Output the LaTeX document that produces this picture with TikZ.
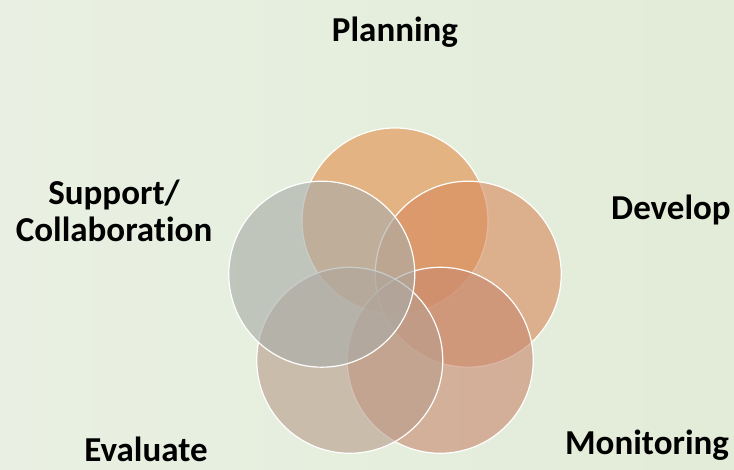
\documentclass[tikz,border=0pt]{standalone}
\usepackage{fontspec}
\setmainfont{Carlito}[Ligatures=NoCommon]
\usetikzlibrary{calc}
\definecolor{bgleft}{HTML}{E9F0E3}
\definecolor{bgright}{HTML}{E2ECD8}
\definecolor{planc}{HTML}{E38F4C}
\definecolor{devc}{HTML}{D98C5E}
\definecolor{monc}{HTML}{C98A70}
\definecolor{evac}{HTML}{B89E8C}
\definecolor{supc}{HTML}{A9ACA8}
\tikzset{
  petal/.style={circle, minimum size=186pt, draw=white, line width=1.2pt, fill opacity=0.62},
  lbl/.style={font=\bfseries\fontsize{35}{37}\selectfont, align=center, text=black, anchor=base, inner sep=0pt}
}
\begin{document}
\begin{tikzpicture}[x=1pt, y=1pt]
        \shade[left color=bgleft, right color=bgright] (0,0) rectangle (734,470);
        \useasboundingbox (0,0) rectangle (734,470);
        \def\R{77}
        % five overlapping circles
        \foreach \a/\c/\n in {90/planc/plan, 18/devc/dev, -54/monc/mon, -126/evac/eva, 162/supc/sup} {
            \node[petal, fill=\c] (\n) at ($(395,172) + (\a:\R)$) {};
        }
        % labels
        \node[lbl] (planlbl) at (395,428) {Planning};
        \node[lbl] (devlbl) at (671,250) {Develop};
        \node[lbl] (monlbl) at (647,15) {Monitoring};
        \node[lbl] (evalbl) at (146,8) {Evaluate};
        \node[lbl] (suplbl) at (114,228) {Support/\\Collaboration};
    \end{tikzpicture}
\end{document}
